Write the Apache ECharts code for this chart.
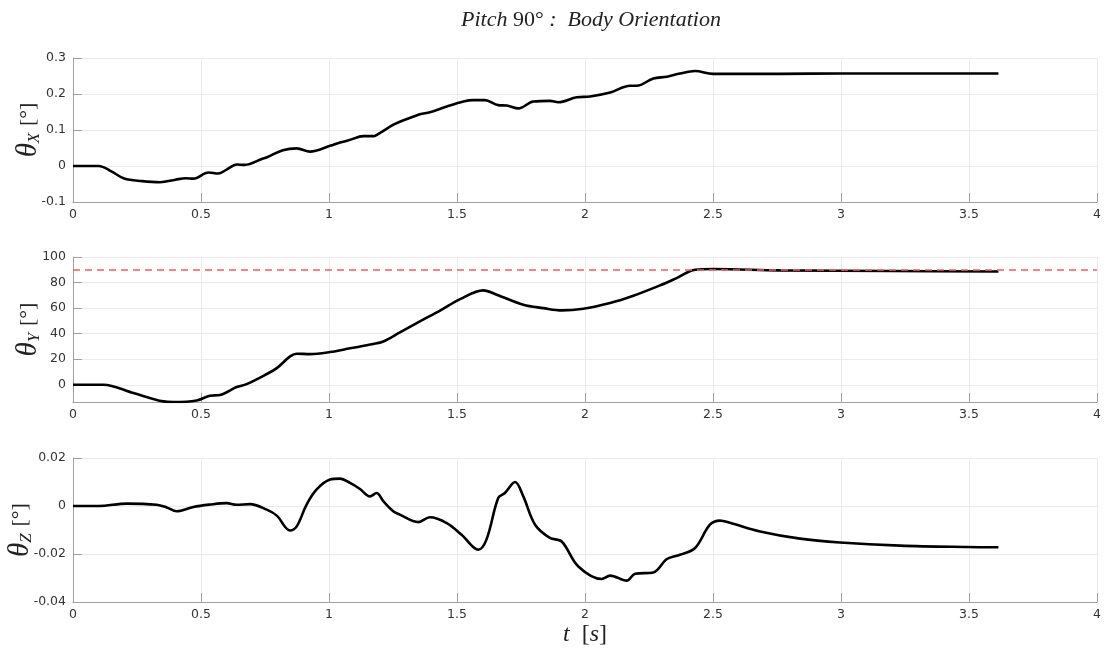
<!DOCTYPE html>
<html><head><meta charset="utf-8">
<script src="https://cdn.jsdelivr.net/npm/echarts@6/dist/echarts.min.js"></script>
<style>html,body{margin:0;padding:0;background:#fff}#c{width:1108px;height:655px}</style>
</head><body><div id="c"></div>
<script>
// Time ticks
const tTicks = [0, 0.5, 1, 1.5, 2, 2.5, 3, 3.5, 4];
// theta_X
const tX = [0,0.1,0.15,0.2,0.27,0.34,0.4,0.44,0.47,0.53,0.567,0.6,0.64,0.67,0.743,0.76,0.82,0.874,0.926,1.004,1.043,1.08,1.134,1.173,1.19,1.25,1.27,1.355,1.394,1.46,1.525,1.563,1.609,1.661,1.694,1.74,1.798,1.863,1.896,1.968,2.02,2.098,2.176,2.202,2.267,2.32,2.371,2.43,2.5,2.76,3.0,3.3,3.615];
const vX = [0,0,-0.015,-0.035,-0.042,-0.045,-0.038,-0.034,-0.035,-0.018,-0.021,-0.01,0.004,0.003,0.021,0.025,0.044,0.049,0.040,0.056,0.065,0.072,0.083,0.083,0.088,0.114,0.121,0.144,0.149,0.165,0.179,0.183,0.183,0.169,0.168,0.160,0.179,0.181,0.177,0.191,0.193,0.204,0.223,0.223,0.243,0.248,0.257,0.264,0.256,0.256,0.257,0.257,0.257];
// theta_Y
const tY = [0,0.118,0.236,0.353,0.392,0.483,0.535,0.574,0.639,0.678,0.757,0.796,0.848,0.874,0.926,1.004,1.082,1.173,1.212,1.277,1.355,1.434,1.512,1.603,1.655,1.759,1.837,1.909,1.993,2.098,2.189,2.293,2.358,2.43,2.5,2.76,3.2,3.615];
const vY = [0,0,-6.5,-13,-13.5,-12.3,-8.6,-8,-1.8,0.5,8.4,13,22.2,24.3,24,25.6,28.5,31.9,33.9,41,49.6,58,67,73.9,70.5,62.6,60,58.2,59.5,64,69.7,77.8,83.5,90,90.6,89.5,89,88.6];
const targetY = 90;
// theta_Z
const tZ = [0,0.1,0.21,0.327,0.366,0.405,0.47,0.535,0.6,0.639,0.691,0.757,0.796,0.848,0.874,0.912,0.951,1.004,1.043,1.082,1.121,1.16,1.186,1.212,1.251,1.277,1.349,1.394,1.46,1.518,1.583,1.615,1.661,1.687,1.727,1.759,1.805,1.863,1.909,1.974,2.065,2.098,2.163,2.196,2.267,2.32,2.371,2.43,2.488,2.527,2.566,2.684,2.84,2.996,3.23,3.49,3.615];
const vZ = [0,0,0.001,0.0005,-0.0006,-0.0022,-0.0004,0.0006,0.0012,0.0005,0.0008,-0.0015,-0.004,-0.0102,-0.0085,0.0005,0.0068,0.011,0.0114,0.0096,0.0071,0.004,0.0054,0.002,-0.0022,-0.0036,-0.0067,-0.0047,-0.0071,-0.012,-0.0182,-0.014,0.0033,0.0054,0.010,0.004,-0.0078,-0.0133,-0.0148,-0.0252,-0.0304,-0.029,-0.0311,-0.0282,-0.0277,-0.0221,-0.0203,-0.0175,-0.0078,-0.0061,-0.007,-0.0106,-0.0136,-0.0152,-0.0165,-0.0171,-0.0172];

const zip = (t, v) => t.map((x, i) => [x, v[i]]);
const chart = echarts.init(document.getElementById('c'), null, {renderer: 'canvas'});
const sans = 'DejaVu Sans';
const serif = 'Liberation Serif';
const axisCol = '#a0a0a0';
const gridCol = '#ebebeb';
const labelStyle = {color: '#333', fontFamily: sans, fontSize: 12.5};

function xAxis(idx, name) {
  return {
    type: 'value', gridIndex: idx, min: 0, max: 4, interval: 0.5,
    axisLine: {show: true, onZero: false, lineStyle: {color: axisCol, width: 1}},
    axisTick: {show: true, inside: true, length: 9, lineStyle: {color: axisCol}},
    axisLabel: Object.assign({margin: 6}, labelStyle),
    splitLine: {show: true, showMinLine: false, showMaxLine: true, lineStyle: {color: gridCol, width: 1}},
    name: name || '', nameLocation: 'middle', nameGap: 21,
    nameTextStyle: {
      rich: {
        i: {fontFamily: serif, fontStyle: 'italic', fontWeight: 'normal', fontSize: 24, color: '#222'},
        n: {fontFamily: serif, fontWeight: 'normal', fontSize: 24, color: '#222'}
      }
    }
  };
}
function yAxis(idx, opts, sub, gap) {
  return Object.assign({
    type: 'value', gridIndex: idx,
    axisLine: {show: true, onZero: false, lineStyle: {color: axisCol, width: 1}},
    axisTick: {show: true, inside: true, length: 9, lineStyle: {color: axisCol}},
    axisLabel: Object.assign({margin: 7}, labelStyle),
    splitLine: {show: true, showMinLine: false, showMaxLine: true, lineStyle: {color: gridCol, width: 1}},
    name: '{th|θ}{sub|' + sub + '}{sp|  }{n|[°]}',
    nameLocation: 'middle', nameGap: gap, nameRotate: 90, nameMoveOverlap: false,
    nameTextStyle: {
      rich: {
        th: {fontFamily: serif, fontStyle: 'italic', fontWeight: 'normal', fontSize: 29, color: '#222'},
        sub: {fontFamily: serif, fontStyle: 'italic', fontWeight: 'normal', fontSize: 17, color: '#222', padding: [13, 0, 0, 0]},
        sp: {fontSize: 12},
        n: {fontFamily: serif, fontWeight: 'normal', fontSize: 22, color: '#222'}
      }
    }
  }, opts);
}
const lineSeries = (idx, t, v) => ({
  type: 'line', xAxisIndex: idx, yAxisIndex: idx, data: zip(t, v),
  showSymbol: false, smooth: 0.35, lineStyle: {color: '#000', width: 2.6}, animation: false, z: 3
});
const gridBase = {left: 73, width: 1024, outerBoundsMode: 'none', containLabel: false};

const option = {
  animation: false,
  backgroundColor: '#fff',
  title: {
    text: '{i|Pitch }{n|90°}{i| :  Body Orientation}',
    left: 586, top: 4, textAlign: 'center',
    textStyle: {
      fontWeight: 'normal',
      rich: {
        i: {fontFamily: serif, fontStyle: 'italic', fontWeight: 'normal', fontSize: 22, color: '#222'},
        n: {fontFamily: serif, fontWeight: 'normal', fontSize: 22, color: '#222'}
      }
    }
  },
  grid: [
    Object.assign({top: 58, height: 144}, gridBase),
    Object.assign({top: 257, height: 145}, gridBase),
    Object.assign({top: 458, height: 144}, gridBase)
  ],
  xAxis: [xAxis(0), xAxis(1), xAxis(2, '{i|t}{n|  [}{i|s}{n|]}')],
  yAxis: [
    yAxis(0, {min: -0.1, max: 0.3, interval: 0.1}, 'X', 30),
    yAxis(1, {min: -13.5, max: 100, splitNumber: 5,
      axisLabel: Object.assign({margin: 7, showMinLabel: false,
        formatter: v => (Math.abs(v % 20) < 1e-6 ? String(v) : '')}, labelStyle)}, 'Y', 30),
    yAxis(2, {min: -0.04, max: 0.02, interval: 0.02}, 'Z', 38)
  ],
  series: [
    lineSeries(0, tX, vX),
    Object.assign(lineSeries(1, tY, vY), {
      markLine: {
        silent: true, symbol: 'none', label: {show: false},
        lineStyle: {color: '#ff5a5a', type: [7, 5], width: 1.5},
        data: [{yAxis: targetY}]
      }
    }),
    lineSeries(2, tZ, vZ)
  ]
};
chart.setOption(option);
</script>
</body></html>
